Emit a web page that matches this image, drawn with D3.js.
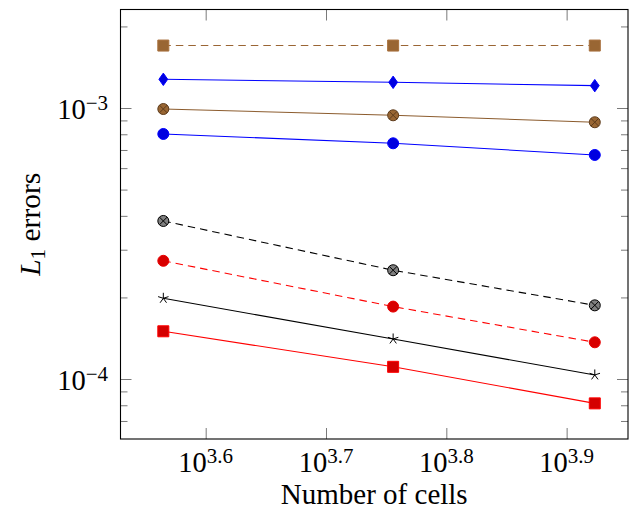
<!DOCTYPE html>
<html><head><meta charset="utf-8">
<script src="https://cdn.jsdelivr.net/npm/d3@7"></script>
<style>body{margin:0;background:#fff}svg{display:block}text{font-family:"Liberation Serif","Times New Roman",serif;fill:#000}</style>
</head><body>
<script>
// ---- data ----
const cells = [3671, 5699, 8383];
const errBrownSquare  = [1.70e-3, 1.70e-3, 1.70e-3];
const errBlueDiamond  = [1.276e-3, 1.244e-3, 1.209e-3];
const errBrownOtimes  = [0.9915e-3, 0.940e-3, 0.886e-3];
const errBlueCircle   = [0.802e-3, 0.741e-3, 0.671e-3];
const errGrayOtimes   = [3.83e-4, 2.52e-4, 1.87e-4];
const errRedCircle    = [2.73e-4, 1.85e-4, 1.366e-4];
const errBlackStar    = [1.985e-4, 1.405e-4, 1.035e-4];
const errRedSquare    = [1.50e-4, 1.109e-4, 8.13e-5];
const xTickExps = ["3.6", "3.7", "3.8", "3.9"];
const yTickExps = ["−4", "−3"];
const yTickVals = [1e-4, 1e-3];
const yMinorVals = [7e-5, 8e-5, 9e-5, 2e-4, 3e-4, 4e-4, 5e-4, 6e-4, 7e-4, 8e-4, 9e-4, 2e-3];

const series = [
  {vals: errBrownSquare, mark: "square",  line: "#9a6534", fill: "#996633", stroke: "#a8703c", dash: "7.5,5"},
  {vals: errBlueDiamond, mark: "diamond", line: "#0000ff", fill: "#0000e0", stroke: "#0000ff", dash: null},
  {vals: errBrownOtimes, mark: "otimes",  line: "#8c5c2e", fill: "#996633", stroke: "#5e3c1c", dash: null},
  {vals: errBlueCircle,  mark: "circle",  line: "#0000ff", fill: "#0000e0", stroke: "#0000ff", dash: null},
  {vals: errGrayOtimes,  mark: "otimes",  line: "#000000", fill: "#808080", stroke: "#000000", dash: "7.5,5"},
  {vals: errRedCircle,   mark: "circle",  line: "#ff0000", fill: "#d80000", stroke: "#e80000", dash: "7.5,5"},
  {vals: errBlackStar,   mark: "star",    line: "#000000", fill: "none",    stroke: "#000000", dash: null},
  {vals: errRedSquare,   mark: "square",  line: "#ff0000", fill: "#d40000", stroke: "#ff0000", dash: null}
];

const W = 631, H = 519;
const L = 120.5, R = 628, T = 9.5, B = 439;
const svg = d3.select("body").append("svg").attr("width", W).attr("height", H);

const x = d3.scaleLog().domain([Math.pow(10, 3.5292), Math.pow(10, 3.951)]).range([L, R]);
const y = d3.scaleLog().domain([Math.pow(10, -4.2214), Math.pow(10, -2.6365)]).range([B, T]);
const xTickVals = xTickExps.map(e => Math.pow(10, +e));

// ticks (inside, mirrored)
const tickColor = "#7a7a7a";
function styleAxis(g){ g.select(".domain").remove(); g.selectAll("line").attr("stroke", tickColor).attr("stroke-width", 1); g.selectAll("text").remove(); }
svg.append("g").attr("transform", `translate(0,${B})`).call(d3.axisBottom(x).tickValues(xTickVals).tickSize(-11).tickFormat("")).call(styleAxis);
svg.append("g").attr("transform", `translate(0,${T})`).call(d3.axisTop(x).tickValues(xTickVals).tickSize(-11).tickFormat("")).call(styleAxis);
svg.append("g").attr("transform", `translate(${L},0)`).call(d3.axisLeft(y).tickValues(yTickVals).tickSize(-11).tickFormat("")).call(styleAxis);
svg.append("g").attr("transform", `translate(${L},0)`).call(d3.axisLeft(y).tickValues(yMinorVals).tickSize(-7).tickFormat("")).call(styleAxis);
svg.append("g").attr("transform", `translate(${R},0)`).call(d3.axisRight(y).tickValues(yTickVals).tickSize(-11).tickFormat("")).call(styleAxis);
svg.append("g").attr("transform", `translate(${R},0)`).call(d3.axisRight(y).tickValues(yMinorVals).tickSize(-7).tickFormat("")).call(styleAxis);

// frame
svg.append("rect").attr("x", L).attr("y", T).attr("width", R - L).attr("height", B - T)
  .attr("fill", "none").attr("stroke", "#000").attr("stroke-width", 1.1);

// tick labels
xTickVals.forEach((v, i) => {
  const t = svg.append("text").attr("x", x(v)).attr("y", 471.5).attr("text-anchor", "middle").style("font-size", "28.5px");
  t.append("tspan").text("10");
  t.append("tspan").attr("dy", -9).style("font-size", "21px").text(xTickExps[i]);
});
yTickVals.forEach((v, i) => {
  const t = svg.append("text").attr("x", 108).attr("y", y(v) + 11).attr("text-anchor", "end").style("font-size", "28.5px");
  t.append("tspan").text("10");
  t.append("tspan").attr("dy", -9).style("font-size", "21px").text(yTickExps[i]);
});

// axis labels
svg.append("text").attr("x", (L + R) / 2).attr("y", 503.5).attr("text-anchor", "middle").style("font-size", "29px").text("Number of cells");
const yl = svg.append("text").attr("transform", `translate(40,${(T + B) / 2}) rotate(-90)`).attr("text-anchor", "middle").style("font-size", "29.5px");
yl.append("tspan").style("font-style", "italic").text("L");
yl.append("tspan").attr("dy", 5).style("font-size", "21px").text("1");
yl.append("tspan").attr("dy", -5).text(" errors");

// lines
const lineGen = d3.line().x(d => x(d[0])).y(d => y(d[1]));
series.forEach(s => {
  svg.append("path").datum(cells.map((c, i) => [c, s.vals[i]]))
    .attr("d", lineGen).attr("fill", "none").attr("stroke", s.line).attr("stroke-width", 1.1)
    .attr("stroke-dasharray", s.dash);
});

// markers
function markPath(m){
  const r = 5.5;
  if (m === "square") return `M${-r},${-r}H${r}V${r}H${-r}Z`;
  if (m === "diamond") return `M0,${-6.2}L4.4,0L0,6.2L-4.4,0Z`;
  if (m === "circle") return d3.arc()({innerRadius: 0, outerRadius: r, startAngle: 0, endAngle: 2 * Math.PI});
  if (m === "otimes") {
    const k = r * Math.SQRT1_2;
    return d3.arc()({innerRadius: 0, outerRadius: r, startAngle: 0, endAngle: 2 * Math.PI}) +
      `M${-k},${-k}L${k},${k}M${-k},${k}L${k},${-k}`;
  }
  if (m === "star") {
    let p = "";
    for (let j = 0; j < 5; j++) {
      const a = -Math.PI / 2 + j * 2 * Math.PI / 5;
      p += `M0,0L${(5.5 * Math.cos(a)).toFixed(2)},${(5.5 * Math.sin(a)).toFixed(2)}`;
    }
    return p;
  }
}
series.forEach(s => {
  svg.append("g").selectAll("path").data(cells.map((c, i) => [c, s.vals[i]])).join("path")
    .attr("transform", d => `translate(${x(d[0])},${y(d[1])})`)
    .attr("d", markPath(s.mark)).attr("fill", s.fill).attr("stroke", s.stroke).attr("stroke-width", 1);
});
</script>
</body></html>
